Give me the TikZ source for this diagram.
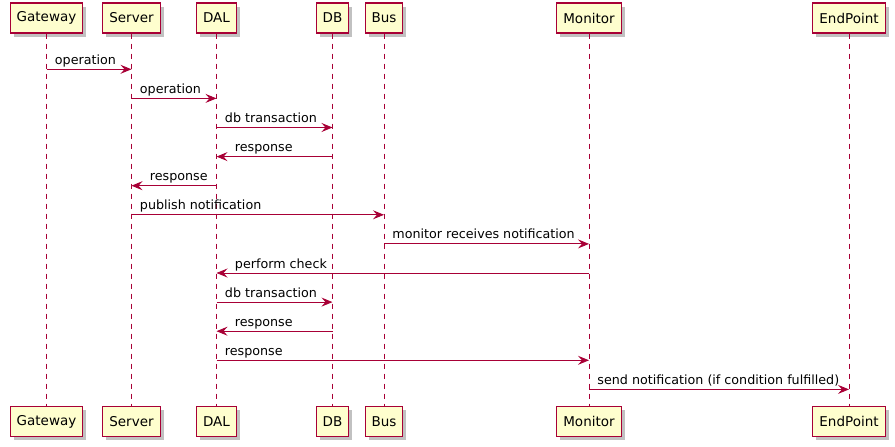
\documentclass[tikz,border=0pt]{standalone}
\usepackage{fontspec}
\setmainfont{DejaVu Sans}
\usetikzlibrary{arrows.meta,shadows}
\definecolor{umlred}{HTML}{A80036}
\definecolor{umlfill}{HTML}{FEFECE}

\begin{document}
\begin{tikzpicture}[x=1pt, y=-1pt]
        \tikzstyle{actor} = [rectangle, draw=umlred, fill=umlfill, line width=1.1pt, minimum height=30pt, inner xsep=6.5pt, font=\fontsize{13.5}{16}\selectfont, drop shadow={shadow xshift=3.5pt, shadow yshift=-3.5pt, opacity=0.3, fill=black!80}]
        \tikzstyle{lifeline} = [umlred, line width=0.8pt, dash pattern=on 5pt off 5pt]
        \tikzstyle{msg} = [-{Stealth[length=11pt, width=9pt, inset=4pt]}, umlred, line width=0.9pt]
        \tikzstyle{lbl} = [anchor=base west, inner sep=0pt, font=\fontsize{12.7}{15}\selectfont, text=black]

\useasboundingbox (0,0) rectangle (895,447);

\node[actor] (gwT) at (46.5,18) {Gateway};
        \node[actor] (srvT) at (131.5,18) {Server};
        \node[actor] (dalT) at (216.5,18) {DAL};
        \node[actor] (dbT) at (332.5,18) {DB};
        \node[actor] (busT) at (384,18) {Bus};
        \node[actor] (monT) at (589,18) {Monitor};
        \node[actor] (epT) at (849,18) {EndPoint};

\node[actor] (gwB) at (46.5,421.5) {Gateway};
        \node[actor] (srvB) at (131.5,421.5) {Server};
        \node[actor] (dalB) at (216.5,421.5) {DAL};
        \node[actor] (dbB) at (332.5,421.5) {DB};
        \node[actor] (busB) at (384,421.5) {Bus};
        \node[actor] (monB) at (589,421.5) {Monitor};
        \node[actor] (epB) at (849,421.5) {EndPoint};

\foreach \p in {gw,srv,dal,db,bus,mon,ep}
            \draw[lifeline] (\p T) -- (\p B);

\foreach \i in {1,...,12}
            \coordinate (m\i) at (0,{69.3+29.1*(\i-1)});

\draw[msg] (gwT |- m1) -- node[lbl, at start, xshift=8pt, yshift=5pt] {operation} (srvT |- m1);
        \draw[msg] (srvT |- m2) -- node[lbl, at start, xshift=8pt, yshift=5pt] {operation} (dalT |- m2);
        \draw[msg] (dalT |- m3) -- node[lbl, at start, xshift=8pt, yshift=5pt] {db transaction} (dbT |- m3);
        \draw[msg] (dbT |- m4) -- node[lbl, at end, xshift=18pt, yshift=5pt] {response} (dalT |- m4);
        \draw[msg] (dalT |- m5) -- node[lbl, at end, xshift=18pt, yshift=5pt] {response} (srvT |- m5);
        \draw[msg] (srvT |- m6) -- node[lbl, at start, xshift=8pt, yshift=5pt] {publish notification} (busT |- m6);
        \draw[msg] (busT |- m7) -- node[lbl, at start, xshift=8pt, yshift=5pt] {monitor receives notification} (monT |- m7);
        \draw[msg] (monT |- m8) -- node[lbl, at end, xshift=18pt, yshift=5pt] {perform check} (dalT |- m8);
        \draw[msg] (dalT |- m9) -- node[lbl, at start, xshift=8pt, yshift=5pt] {db transaction} (dbT |- m9);
        \draw[msg] (dbT |- m10) -- node[lbl, at end, xshift=18pt, yshift=5pt] {response} (dalT |- m10);
        \draw[msg] (dalT |- m11) -- node[lbl, at start, xshift=8pt, yshift=5pt] {response} (monT |- m11);
        \draw[msg] (monT |- m12) -- node[lbl, at start, xshift=8pt, yshift=5pt] {send notification (if condition fulfilled)} (epT |- m12);

    \end{tikzpicture}
\end{document}
